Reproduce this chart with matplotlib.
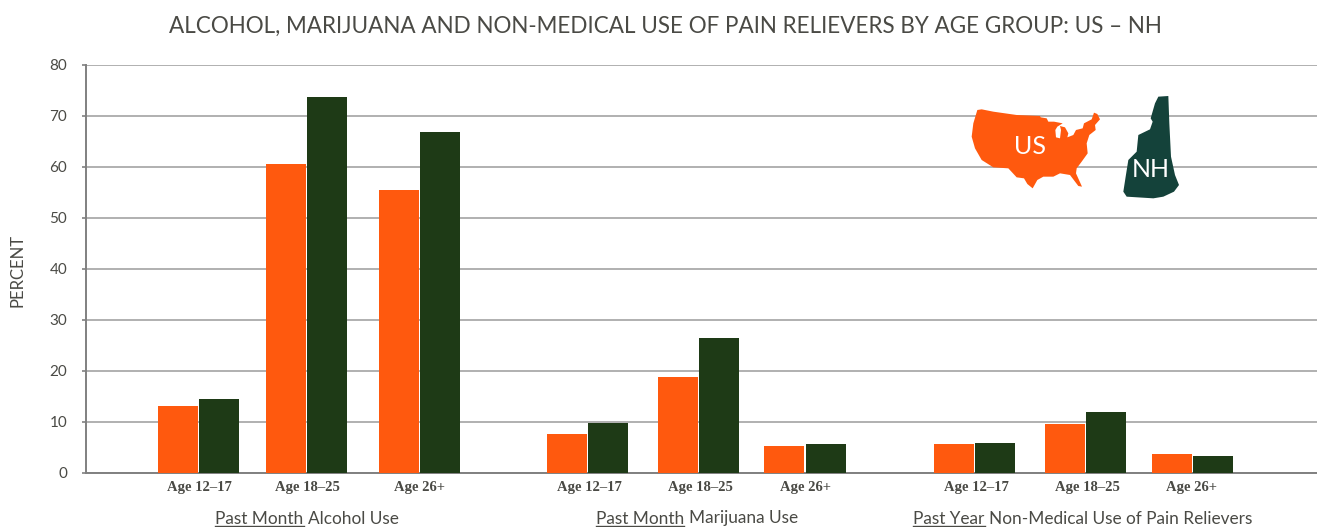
import matplotlib
matplotlib.use("Agg")
import matplotlib.pyplot as plt
from matplotlib.patches import Polygon

W, H = 1317, 527
age_labels = ["Age 12–17", "Age 18–25", "Age 26+"]
us_values = [13.1, 60.5, 55.4, 7.6, 18.8, 5.3, 5.6, 9.6, 3.6]
nh_values = [14.5, 73.8, 66.9, 9.7, 26.4, 5.6, 5.8, 11.8, 3.3]
y_ticks = [0, 10, 20, 30, 40, 50, 60, 70, 80]
title = "ALCOHOL, MARIJUANA AND NON-MEDICAL USE OF PAIN RELIEVERS BY AGE GROUP: US – NH"
group_titles = [("Past Month", " Alcohol Use"), ("Past Month", " Marijuana Use"),
                ("Past Year", " Non-Medical Use of Pain Relievers")]

# layout (pixel positions of the reference)
centers = [198.7, 306.7, 419.7, 587.7, 698.7, 804.8, 974.7, 1085.7, 1192.3]
label_centers = [199, 307, 420, 589, 700, 806, 976, 1087, 1192]
group_centers = [307, 697, 1083]
BAR_W, OFFSET = 40, 20.7
ORANGE, GREEN, TEAL = "#FF590E", "#1E3A16", "#14423A"
TEXT = "#4A4A45"
FONT = "Lato"
CAPTION_SIZE = 12.45

fig = plt.figure(figsize=(W / 100, H / 100), dpi=100, facecolor="white")
ax = fig.add_axes([86 / W, 1 - 472.5 / H, (W - 86) / W, 407.5 / H])
ax.set_xlim(86, W)
ax.set_ylim(0, 80)
ax.set_axisbelow(True)

ax.bar([c - OFFSET for c in centers], us_values, BAR_W, color=ORANGE, zorder=3)
ax.bar([c + OFFSET for c in centers], nh_values, BAR_W, color=GREEN, zorder=3)

ax.yaxis.grid(True, color="#B0B0B0", lw=1.4, zorder=1)
ax.xaxis.grid(False)
for s in ("top", "right"):
    ax.spines[s].set_visible(False)
for s in ("left", "bottom"):
    ax.spines[s].set_color("#808080")
    ax.spines[s].set_linewidth(1.4)
ax.set_yticks(y_ticks)
ax.tick_params(axis="y", length=3, width=1.2, color="#808080", labelsize=11,
               labelcolor=TEXT, pad=10.5)
for t in ax.get_yticklabels():
    t.set_family(FONT)
ax.set_xticks(label_centers)
ax.set_xticklabels(age_labels * 3, family="Liberation Serif", fontweight="bold",
                   fontsize=10.5, color=TEXT)
ax.tick_params(axis="x", length=0, pad=6)

fig.text(665 / W, 1 - 26 / H, title, ha="center", va="center", family=FONT,
         fontsize=16.24, color=TEXT)
fig.text(18 / W, 1 - 270 / H, "PERCENT", rotation=90, ha="center", va="center",
         family=FONT, fontsize=12, color=TEXT)

# group captions, first word underlined
fig.canvas.draw()
r = fig.canvas.get_renderer()
for gc, (u, rest) in zip(group_centers, group_titles):
    probe = fig.text(0, 0, u + rest, family=FONT, fontsize=CAPTION_SIZE)
    total = probe.get_window_extent(r).width
    probe.remove()
    x0 = gc - total / 2
    t = fig.text(x0 / W, 1 - 518.5 / H, u, family=FONT, fontsize=CAPTION_SIZE, color=TEXT,
                 ha="left", va="center")
    e = t.get_window_extent(r)
    fig.text((x0 + total) / W, 1 - 518.5 / H, rest.strip(), family=FONT, fontsize=CAPTION_SIZE,
             color=TEXT, ha="right", va="center")
    fig.add_artist(plt.Line2D([x0 / W, e.x1 / W], [1 - 525.5 / H] * 2, color=TEXT, lw=1))

# legend maps, traced in zoom coordinates
us_shape = [(82,90),(95,88),(130,95),(200,105),(270,108),(272,112),(290,115),(295,125),(312,125),
            (338,130),(322,140),(316,150),(318,172),(330,175),(333,150),(330,138),(345,142),
            (355,160),(352,172),(370,165),(378,150),(398,145),(402,130),(425,118),(432,98),(442,102),
            (450,118),(435,135),(437,150),(418,165),(410,190),(413,220),(395,245),(380,265),(378,280),
            (396,320),(385,318),(360,285),(330,280),(310,290),(280,290),(262,300),(248,325),(232,312),(222,295),
            (200,292),(175,265),(130,262),(95,240),(75,205),(65,170),(70,130)]
nh_shape = [(625,50),(655,48),(658,130),(663,230),(675,285),(687,315),(672,335),(640,350),(610,355),
            (530,350),(520,335),(527,290),(535,240),(560,215),(565,165),(600,148),(608,125),(602,115),(615,70)]
def to_fig(pts):
    return [((950 + x / 3) / W, 1 - (80 + y / 3) / H) for x, y in pts]
fig.add_artist(Polygon(to_fig(us_shape), closed=True, fc=ORANGE, ec="none",
                       transform=fig.transFigure, zorder=5))
fig.add_artist(Polygon(to_fig(nh_shape), closed=True, fc=TEAL, ec="none",
                       transform=fig.transFigure, zorder=5))
fig.text(1030 / W, 1 - 147 / H, "US", color="white", family=FONT, fontsize=18,
         ha="center", va="center", zorder=6)
fig.text(1150.5 / W, 1 - 170 / H, "NH", color="white", family=FONT, fontsize=18,
         ha="center", va="center", zorder=6)

fig.savefig("out.png", dpi=100)
